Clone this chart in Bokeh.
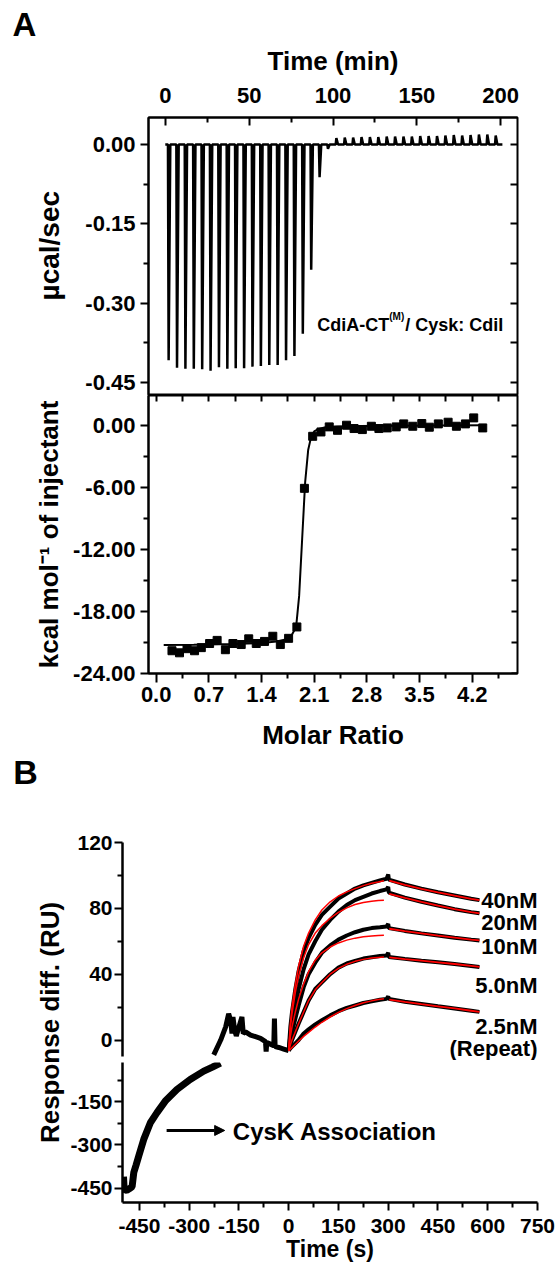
from bokeh.plotting import figure
from bokeh.models import (Range1d, LinearAxis, FixedTicker, NumeralTickFormatter,
                          CustomJSTickFormatter, Label, Arrow, NormalHead, Title)
from bokeh.layouts import column, row
from bokeh.embed import file_html
from bokeh.resources import INLINE

FONT = "Liberation Sans"

# ---------------- Panel A, top: ITC raw thermogram ----------------
inj_time_min = [1.6, 6.6, 11.6, 16.6, 21.6, 26.6, 31.6, 36.6, 41.6, 46.6,
                51.6, 56.6, 61.6, 66.6, 71.6, 76.6, 81.6, 86.6, 91.6, 96.6,
                101.6, 106.6, 111.6, 116.6, 121.6, 126.6, 131.6, 136.6, 141.6, 146.6,
                151.6, 156.6, 161.6, 166.6, 171.6, 176.6, 181.6, 186.6, 191.6, 196.6]
inj_peak_ucal = [-0.408, -0.422, -0.424, -0.424, -0.425, -0.428, -0.421, -0.424, -0.423, -0.423,
                 -0.420, -0.419, -0.417, -0.417, -0.408, -0.400, -0.358, -0.237, -0.062, -0.008,
                 0.012, 0.013, 0.013, 0.014, 0.014, 0.014, 0.015, 0.015, 0.015, 0.015,
                 0.016, 0.016, 0.016, 0.017, 0.018, 0.017, 0.018, 0.019, 0.019, 0.017]
raw_time_ticks = [0, 50, 100, 150, 200]
raw_time_minor = [25, 75, 125, 175]
raw_power_ticks = [0.0, -0.15, -0.30, -0.45]
raw_power_minor = [-0.075, -0.225, -0.375]

# ---------------- Panel A, bottom: binding isotherm ----------------
molar_ratio = [0.21, 0.31, 0.41, 0.51, 0.60, 0.71, 0.81, 0.92, 1.02, 1.13,
               1.23, 1.33, 1.44, 1.55, 1.65, 1.76, 1.87, 1.97, 2.08, 2.19,
               2.30, 2.41, 2.53, 2.63, 2.74, 2.86, 2.96, 3.07, 3.19, 3.29,
               3.41, 3.53, 3.63, 3.75, 3.88, 3.99, 4.11, 4.22, 4.34]
heat_kcal = [-21.8, -22.0, -21.6, -21.8, -21.5, -21.1, -20.8, -21.7, -21.1, -21.2,
             -20.65, -21.1, -20.9, -20.4, -21.2, -20.6, -19.5, -6.1, -1.07, -0.65,
             -0.16, -0.49, 0.0, -0.32, -0.42, -0.10, -0.32, -0.26, -0.16, 0.13,
             -0.10, 0.16, -0.19, 0.13, 0.29, -0.10, 0.13, 0.71, -0.26]
fit_ratio = [0.10, 0.50, 1.00, 1.40, 1.60, 1.72, 1.80, 1.86, 1.90, 1.94, 1.98,
             2.02, 2.06, 2.10, 2.16, 2.25, 2.40, 2.70, 3.20, 3.80, 4.34]
fit_heat = [-21.25, -21.22, -21.15, -21.05, -20.9, -20.7, -20.3, -19.5, -16.5, -11.0, -5.5,
            -2.4, -1.1, -0.6, -0.35, -0.2, -0.12, -0.07, -0.04, -0.02, -0.01]
ratio_ticks = [0.0, 0.7, 1.4, 2.1, 2.8, 3.5, 4.2]
ratio_minor = [0.35, 1.05, 1.75, 2.45, 3.15, 3.85, 4.55]
heat_ticks = [0, -6, -12, -18, -24]
heat_minor = [-3, -9, -15, -21]

# ---------------- Panel B: SPR sensorgrams ----------------
conc_labels = ["40nM", "20nM", "10nM", "5.0nM", "2.5nM", "(Repeat)"]
conc_label_resp = [84.8, 71.6, 56.9, 33.1, 8.3, -5.2]
assoc_time = [0, 5, 10, 20, 30, 45, 60, 80, 100, 125, 150, 175, 200, 225, 250, 275, 295, 300]
assoc_40 = [-6.5, 8, 17, 31, 42, 54, 62, 70, 76, 81, 86, 89, 92, 94, 95.5, 97, 98, 100.5]
assoc_20 = [-6.5, 3, 10, 21, 31, 43, 52, 60, 67, 73, 78, 82, 85, 87, 89, 90.5, 91.5, 93]
assoc_10 = [-6.5, 0, 5, 13, 21, 32, 40, 47, 53, 57.5, 61, 63.5, 65.5, 67, 68, 68.5, 69, 70.5]
assoc_5 = [-6.5, -3, 0, 5, 10, 17, 24, 31, 35, 40, 44, 46.5, 48, 49.5, 50.3, 51, 51.3, 53]
assoc_2p5 = [-6.5, -5, -4, -2, 0, 4, 6.5, 9.5, 12, 15, 17.5, 19.5, 21, 22.5, 23.5, 24.5, 25, 26.5]
diss_time = [302, 350, 400, 450, 500, 550, 575]
diss_40 = [97.5, 94.5, 92.0, 89.8, 87.8, 85.8, 85.0]
diss_20 = [89.5, 86.5, 84.0, 81.7, 79.5, 77.7, 77.0]
diss_10 = [68.0, 66.3, 64.8, 63.5, 62.2, 61.0, 60.5]
diss_5 = [50.5, 49.3, 48.2, 47.2, 46.2, 45.0, 44.4]
diss_2p5 = [25.0, 23.3, 21.9, 20.5, 19.2, 17.8, 17.1]
fit_assoc_time = [0, 5, 10, 20, 30, 45, 60, 80, 100, 125, 150, 175, 200, 225, 250, 270, 287]
fit_assoc_40 = [-6.5, 10, 20, 34, 45, 57, 65, 73, 79, 84, 87.5, 90, 92, 93.8, 95.2, 96, 96.7]
fit_assoc_20 = [-6.5, 8, 16, 29, 39, 50, 58, 65, 69.5, 74, 77.5, 80.3, 82.3, 83.6, 84.3, 84.7, 84.9]
fit_assoc_10 = [-6.5, 2, 8, 17, 25, 34, 41.5, 48.5, 53, 56.5, 59, 60.7, 61.9, 62.7, 63.2, 63.5, 63.7]
fit_assoc_5 = [-6.5, -3, 0, 5, 10, 17, 24, 30.5, 35, 40, 43.5, 46, 47.8, 49, 49.8, 50.2, 50.5]
fit_assoc_2p5 = [-6.5, -5.6, -4.6, -2.6, -0.6, 2.2, 4.7, 7.9, 10.8, 14, 16.8, 19.1, 21, 22.6, 23.8, 24.6, 25.1]
fit_diss_time = [303, 350, 400, 450, 500, 550, 575]
fit_diss_40 = [96.8, 94.3, 91.9, 89.7, 87.7, 85.8, 85.0]
fit_diss_20 = [88.8, 86.3, 83.9, 81.6, 79.5, 77.7, 77.0]
fit_diss_10 = [67.6, 66.2, 64.8, 63.4, 62.2, 61.0, 60.5]
fit_diss_5 = [50.2, 49.2, 48.2, 47.2, 46.2, 45.0, 44.4]
fit_diss_2p5 = [24.6, 23.2, 21.8, 20.5, 19.2, 17.8, 17.1]
cysk_time = [-498, -496, -488, -480, -472, -467, -460, -452, -437, -417, -397,
             -372, -337, -297, -256, -230, -206]
cysk_resp = [-410, -455, -458, -452, -445, -396, -370, -339, -281, -223, -188,
             -148, -108, -73, -44, -30, -16]
pre_time = [-226, -205, -190, -181, -175, -171, -168, -163, -158, -150, -141, -137, -130,
            -115, -100, -85, -70, -68, -66, -55, -45, -43, -41, -30, -15, 0]
pre_resp = [-9, 0, 8, 16, 12, 4, 14, 6, 2.5, 8, 14, 4, 5,
            3, 2, 1, -1, -7, -1.5, -2.5, -3.5, 13, -4, -4.5, -5.5, -6.5]
spr_time_ticks = [-450, -300, -150, 0, 150, 300, 450, 600, 750]
spr_time_minor = [-375, -225, -75, 75, 225, 375, 525, 675]
spr_up_ticks = [0, 40, 80, 120]
spr_up_minor = [20, 60, 100]
spr_low_ticks = [-450, -300, -150]
spr_low_minor = [-375, -225, -75]


def base_style(p):
    p.xgrid.visible = False
    p.ygrid.visible = False
    p.background_fill_color = "white"
    p.border_fill_color = "white"


def style_axis(ax, ticks, minor, fmt, label_px, tick_out=8, tick_in=0,
               minor_out=5, minor_in=0, standoff=5, line_w=2):
    ax.ticker = FixedTicker(ticks=ticks, minor_ticks=minor)
    if fmt is not None:
        ax.formatter = NumeralTickFormatter(format=fmt)
    ax.major_label_text_font = FONT
    ax.major_label_text_font_style = "bold"
    ax.major_label_text_font_size = f"{label_px}px"
    ax.major_label_text_color = "black"
    ax.major_tick_out = tick_out
    ax.major_tick_in = tick_in
    ax.minor_tick_out = minor_out
    ax.minor_tick_in = minor_in
    ax.major_tick_line_width = 2
    ax.minor_tick_line_width = 2
    ax.major_tick_line_color = "black"
    ax.minor_tick_line_color = "black"
    ax.axis_line_width = line_w
    ax.axis_line_color = "black"
    ax.major_label_standoff = standoff
    ax.axis_label_text_font = FONT
    ax.axis_label_text_font_style = "bold"
    ax.axis_label_text_color = "black"


def deco_axis(loc, ticks, length):
    ax = LinearAxis(fixed_location=loc, ticker=FixedTicker(ticks=ticks, minor_ticks=[]),
                    formatter=CustomJSTickFormatter(code="return ''"))
    ax.axis_line_color = None
    ax.major_tick_in = length
    ax.major_tick_out = 0
    ax.major_tick_line_width = 2
    ax.major_tick_line_color = "black"
    ax.minor_tick_line_color = None
    ax.major_label_standoff = 0
    ax.major_label_text_font_size = "0px"
    return ax


def side_title(text, size, offset, valign, standoff=0):
    return Title(text=text, align="left", offset=offset, text_font=FONT,
                 text_font_style="bold", text_font_size=size, text_color="black",
                 vertical_align=valign, standoff=standoff)


# ======================= Figure 1: raw ITC =======================
p1 = figure(frame_width=369, frame_height=278, x_range=Range1d(-10, 210),
            y_range=Range1d(-0.4746, 0.0511), x_axis_location="above",
            toolbar_location=None, output_backend="svg",
            min_border_left=148, min_border_right=31, min_border_top=117, min_border_bottom=0)
base_style(p1)
p1.outline_line_color = "black"
p1.outline_line_width = 2

trace_t = [0.0]
trace_v = [0.0]
for tt, pk in zip(inj_time_min, inj_peak_ucal):
    trace_t += [tt, tt + 0.4, tt + 1.4]
    trace_v += [0.0, pk, 0.0]
trace_t.append(201.0)
trace_v.append(0.0)
p1.line(trace_t, trace_v, line_width=2.5, color="black")

ax = p1.xaxis[0]
style_axis(ax, raw_time_ticks, raw_time_minor, "0", 22, tick_out=0, tick_in=8,
           minor_out=0, minor_in=5, standoff=15)
ax.axis_label = "Time (min)"
ax.axis_label_text_font_size = "26px"
ax.axis_label_standoff = 9
ay = p1.yaxis[0]
style_axis(ay, raw_power_ticks, raw_power_minor, "0.00", 22, standoff=5)
p1.add_layout(side_title("µcal/sec", "28px", 95, "bottom", 35), "left")
p1.add_layout(deco_axis(210, raw_power_ticks + raw_power_minor, 7), "right")
p1.add_layout(side_title("A", "33px", -136, "bottom"), "above")

for dx, dy, txt, sz in [(0, 0, "CdiA-CT", "18px"), (72, 8, "(M)", "10px"),
                        (88, 0, "/ Cysk: CdiI", "18px")]:
    p1.add_layout(Label(x=90.6, y=-0.341, x_offset=dx, y_offset=dy, text=txt,
                        text_font=FONT, text_font_style="bold", text_font_size=sz,
                        text_baseline="alphabetic", text_color="black"))

# ======================= Figure 2: isotherm =======================
p2 = figure(frame_width=369, frame_height=278, x_range=Range1d(-0.102, 4.802),
            y_range=Range1d(-24, 2.874), toolbar_location=None, output_backend="svg",
            min_border_left=148, min_border_right=31, min_border_top=0,
            min_border_bottom=124)
base_style(p2)
p2.outline_line_color = "black"
p2.outline_line_width = 2
p2.line(fit_ratio, fit_heat, line_width=2, color="black")
p2.scatter(molar_ratio, heat_kcal, marker="square", size=8, color="black")

bx = p2.xaxis[0]
style_axis(bx, ratio_ticks, ratio_minor, "0.0", 22, tick_out=9, standoff=4)
bx.axis_label = "Molar Ratio"
bx.axis_label_text_font_size = "26px"
bx.axis_label_standoff = 15
by = p2.yaxis[0]
style_axis(by, heat_ticks, heat_minor, "0.00", 22, standoff=5)
by.axis_label = "kcal mol⁻¹ of injectant"
by.axis_label_text_font_size = "26px"
by.axis_label_standoff = 6
p2.add_layout(deco_axis(2.874, ratio_ticks + ratio_minor, 6), "above")
p2.add_layout(deco_axis(4.802, heat_ticks + heat_minor, 6), "right")
p2.add_layout(side_title("B", "34px", -135.3, "top"), "below")

# ======================= Panel B: SPR with a broken y axis =======================
x_lo, x_hi = -501, 750
x_spr = Range1d(x_lo, x_hi)
SPR_TOP = 45
UP_FRAME = 218
LOW_FRAME = 140
GAP_LOW = 2
SPR_BOTTOM = 66
upper_lo, upper_hi = -10, 120
lower_lo, lower_hi = -500, -14
up_scale = 214 / (upper_hi - upper_lo)           # px per RU in the upper segment

# label-only strip carrying the shared y title
lab = figure(frame_width=2, frame_height=UP_FRAME + GAP_LOW + LOW_FRAME,
             x_range=Range1d(0, 1), y_range=Range1d(0, 1), toolbar_location=None,
             output_backend="svg", min_border_left=64, min_border_right=0,
             min_border_top=SPR_TOP, min_border_bottom=SPR_BOTTOM)
base_style(lab)
lab.outline_line_color = None
lab.xaxis.visible = False
ly = lab.yaxis[0]
ly.ticker = FixedTicker(ticks=[], minor_ticks=[])
ly.axis_line_color = None
ly.major_tick_out = 0
ly.major_label_text_font_size = "0px"
ly.axis_label = "Response diff. (RU)"
ly.axis_label_text_font = FONT
ly.axis_label_text_font_style = "bold"
ly.axis_label_text_font_size = "26px"
ly.axis_label_text_color = "black"
ly.axis_label_standoff = 0

up = figure(frame_width=415, frame_height=UP_FRAME, x_range=x_spr,
            y_range=Range1d(upper_lo - (UP_FRAME - 214) / up_scale, upper_hi),
            x_axis_location=None, toolbar_location=None, output_backend="svg",
            min_border_left=56, min_border_right=19, min_border_top=SPR_TOP,
            min_border_bottom=0)
base_style(up)
up.outline_line_color = None

low = figure(frame_width=415, frame_height=LOW_FRAME, x_range=x_spr,
             y_range=Range1d(lower_lo, lower_hi), toolbar_location=None, output_backend="svg",
             min_border_left=56, min_border_right=19, min_border_top=GAP_LOW,
             min_border_bottom=SPR_BOTTOM)
base_style(low)
low.outline_line_color = None

# traces
low.line(cysk_time, cysk_resp, line_width=7, color="black")
up.line(pre_time, pre_resp, line_width=5, color="black")
black_sets = [(assoc_40, diss_40), (assoc_20, diss_20), (assoc_10, diss_10),
              (assoc_5, diss_5), (assoc_2p5, diss_2p5)]
for a, d in black_sets:
    up.line(assoc_time + diss_time, a + d, line_width=4, color="black")
red_sets = [(fit_assoc_40, fit_diss_40), (fit_assoc_20, fit_diss_20), (fit_assoc_10, fit_diss_10),
            (fit_assoc_5, fit_diss_5), (fit_assoc_2p5, fit_diss_2p5)]
for a, d in red_sets:
    up.line(fit_assoc_time, a, line_width=1.5, color="red")
    up.line(fit_diss_time, d, line_width=1.8, color="red")

uy = up.yaxis[0]
style_axis(uy, spr_up_ticks, spr_up_minor, "0", 21, tick_out=8, minor_out=5,
           standoff=2, line_w=2.5)
uy.bounds = (upper_lo, upper_hi)

wy = low.yaxis[0]
style_axis(wy, spr_low_ticks, spr_low_minor, "0", 21, tick_out=8, minor_out=5,
           standoff=2, line_w=2.5)
wy.bounds = (lower_lo, lower_hi)

wx = low.xaxis[0]
style_axis(wx, spr_time_ticks, spr_time_minor, "0", 21, tick_out=8, minor_out=5,
           standoff=8, line_w=2.5)
wx.axis_label = "Time (s)"
wx.axis_label_text_font_size = "23px"
wx.axis_label_standoff = 0

for lab_txt, yv in zip(conc_labels, conc_label_resp):
    up.add_layout(Label(x=x_hi, y=yv, text=lab_txt, text_align="right",
                        text_baseline="middle", text_font=FONT, text_font_style="bold",
                        text_font_size="22px", text_color="black"))
low.add_layout(Arrow(end=NormalHead(size=10, fill_color="black", line_color="black"),
                     x_start=-368, y_start=-250, x_end=-193, y_end=-250,
                     line_width=3, line_color="black"))
low.add_layout(Label(x=-168.5, y=-252, text="CysK Association",
                     text_baseline="middle", text_font=FONT, text_font_style="bold",
                     text_font_size="24px", text_color="black"))

layout = column(p1, p2, row(lab, column(up, low)))
open("out.html", "w").write(file_html(layout, INLINE))
